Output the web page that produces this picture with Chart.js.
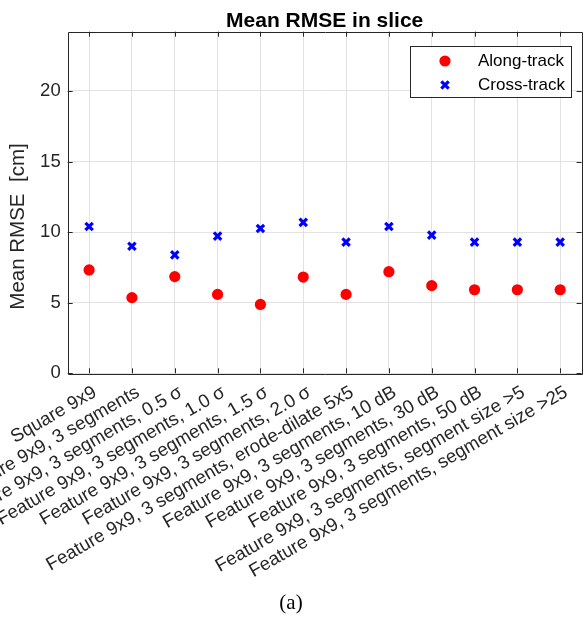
<!DOCTYPE html>
<html>
<head>
<meta charset="utf-8">
<title>Mean RMSE in slice</title>
<script src="https://cdn.jsdelivr.net/npm/chart.js@4/dist/chart.umd.min.js"></script>
<style>
  html, body { margin: 0; padding: 0; background: #ffffff; overflow: hidden; }
  #wrap { position: relative; width: 590px; height: 618px; }
</style>
</head>
<body>
<div id="wrap"><canvas id="chart"></canvas></div>
<script>
// Processing configurations (one column each)
const categories = [
  'Square 9x9',
  'Feature 9x9, 3 segments',
  'Feature 9x9, 3 segments, 0.5 \u03C3',
  'Feature 9x9, 3 segments, 1.0 \u03C3',
  'Feature 9x9, 3 segments, 1.5 \u03C3',
  'Feature 9x9, 3 segments, 2.0 \u03C3',
  'Feature 9x9, 3 segments, erode-dilate 5x5',
  'Feature 9x9, 3 segments, 10 dB',
  'Feature 9x9, 3 segments, 30 dB',
  'Feature 9x9, 3 segments, 50 dB',
  'Feature 9x9, 3 segments, segment size >5',
  'Feature 9x9, 3 segments, segment size >25'
];

// Mean RMSE in cm
const alongTrack = [7.32, 5.36, 6.85, 5.59, 4.88, 6.82, 5.59, 7.20, 6.21, 5.92, 5.92, 5.92];
const crossTrack = [10.40, 9.00, 8.39, 9.72, 10.26, 10.69, 9.29, 10.40, 9.79, 9.29, 9.29, 9.29];

const yTickValues = [0, 5, 10, 15, 20];
const yMax = 24.2;

const chartTitle = 'Mean RMSE in slice';
const yAxisTitle = 'Mean RMSE  [cm]';
const caption = '(a)';

const INK = '#262626';
const GRID = '#e2e2e2';
const SANS = '"Liberation Sans", Arial, Helvetica, sans-serif';

// Title over the axes, box with inward ticks, y label, legend and caption
const axesDecor = {
  id: 'axesDecor',
  afterDatasetsDraw(chart) {
    const { ctx, chartArea: a, scales } = chart;
    const xs = scales.x, ys = scales.y;
    const L = 5;
    ctx.save();

    // Axes box and ticks pointing inwards
    ctx.strokeStyle = INK;
    ctx.lineWidth = 1;
    ctx.beginPath();
    ctx.rect(Math.round(a.left) + 0.5, Math.round(a.top) + 0.5,
             Math.round(a.right - a.left), Math.round(a.bottom - a.top));
    xs.ticks.forEach((t, i) => {
      const px = Math.round(xs.getPixelForTick(i)) + 0.5;
      ctx.moveTo(px, a.bottom); ctx.lineTo(px, a.bottom - L);
      ctx.moveTo(px, a.top); ctx.lineTo(px, a.top + L);
    });
    ys.ticks.forEach((t, i) => {
      const py = Math.round(ys.getPixelForTick(i)) + 0.5;
      ctx.moveTo(a.left, py); ctx.lineTo(a.left + L, py);
      ctx.moveTo(a.right, py); ctx.lineTo(a.right - L, py);
    });
    ctx.stroke();

    // Title centred over the axes
    ctx.fillStyle = '#000000';
    ctx.font = 'bold 21px ' + SANS;
    ctx.textAlign = 'center';
    ctx.textBaseline = 'alphabetic';
    ctx.fillText(chartTitle, (a.left + a.right) / 2, 26.5);

    // Y axis label
    ctx.save();
    ctx.translate(18.5, 226.5);
    ctx.rotate(-Math.PI / 2);
    ctx.fillStyle = INK;
    ctx.font = '20.5px ' + SANS;
    ctx.textAlign = 'center';
    ctx.textBaseline = 'middle';
    ctx.fillText(yAxisTitle, 0, 0);
    ctx.restore();

    // Legend box in the upper right corner
    const bx = 410.5, by = 46.5, bw = 161, bh = 51;
    ctx.fillStyle = '#ffffff';
    ctx.fillRect(bx, by, bw, bh);
    ctx.strokeStyle = INK;
    ctx.lineWidth = 1;
    ctx.strokeRect(bx, by, bw, bh);
    ctx.font = '17px ' + SANS;
    ctx.textBaseline = 'middle';
    ctx.textAlign = 'left';
    chart.data.datasets.forEach((ds, i) => {
      const cy = by + 14.5 + i * 24;
      const cx = bx + 34.5;
      if (ds.pointStyle === 'circle') {
        ctx.fillStyle = ds.pointBackgroundColor;
        ctx.beginPath();
        ctx.arc(cx, cy, ds.pointRadius, 0, Math.PI * 2);
        ctx.fill();
      } else {
        const r = ds.pointRadius * Math.SQRT1_2;
        ctx.strokeStyle = ds.pointBorderColor;
        ctx.lineWidth = ds.pointBorderWidth;
        ctx.beginPath();
        ctx.moveTo(cx - r, cy - r); ctx.lineTo(cx + r, cy + r);
        ctx.moveTo(cx - r, cy + r); ctx.lineTo(cx + r, cy - r);
        ctx.stroke();
      }
      ctx.fillStyle = '#000000';
      ctx.fillText(ds.label, bx + 67.5, cy + 0.5);
    });

    // Figure caption
    ctx.font = '21px "Liberation Serif", "Times New Roman", serif';
    ctx.textAlign = 'center';
    ctx.textBaseline = 'alphabetic';
    ctx.fillStyle = '#000000';
    ctx.fillText(caption, 291, 609);
    ctx.restore();
  }
};

new Chart(document.getElementById('chart'), {
  type: 'line',
  data: {
    labels: categories,
    datasets: [
      {
        label: 'Along-track',
        data: alongTrack,
        showLine: false,
        pointStyle: 'circle',
        pointRadius: 5.6,
        pointBorderWidth: 0,
        pointBackgroundColor: '#ff0000',
        pointBorderColor: '#ff0000',
        backgroundColor: '#ff0000',
        borderColor: '#ff0000'
      },
      {
        label: 'Cross-track',
        data: crossTrack,
        showLine: false,
        pointStyle: 'crossRot',
        pointRadius: 5.2,
        pointBorderWidth: 3.2,
        pointBackgroundColor: '#0000ff',
        pointBorderColor: '#0000ff',
        backgroundColor: '#0000ff',
        borderColor: '#0000ff'
      }
    ]
  },
  options: {
    responsive: true,
    maintainAspectRatio: false,
    animation: false,
    events: [],
    layout: { padding: { left: 0, right: 2.7, top: 31.7, bottom: 0 } },
    plugins: {
      legend: { display: false },
      tooltip: { enabled: false },
      title: { display: false }
    },
    scales: {
      x: {
        type: 'category',
        offset: true,
        grid: { color: GRID, lineWidth: 1, drawTicks: false, offset: false },
        border: { display: false },
        ticks: {
          autoSkip: false,
          minRotation: 30,
          maxRotation: 30,
          padding: 8,
          labelOffset: 6,
          color: INK,
          font: { family: SANS, size: 18.7 }
        },
        afterFit(scale) {
          scale.height = 618 - 373.3;
          scale.paddingLeft = 0;
          scale.paddingRight = 0;
        }
      },
      y: {
        min: 0,
        max: yMax,
        grid: { color: GRID, lineWidth: 1, drawTicks: false },
        border: { display: false },
        ticks: {
          stepSize: 5,
          includeBounds: false,
          padding: 7,
          color: INK,
          font: { family: SANS, size: 18.5 },
          callback: (v) => (yTickValues.includes(v) ? String(v) : '')
        },
        afterFit(scale) {
          scale.width = 67.7;
          scale.paddingTop = 0;
          scale.paddingBottom = 0;
        }
      }
    }
  },
  plugins: [axesDecor]
});
</script>
</body>
</html>
